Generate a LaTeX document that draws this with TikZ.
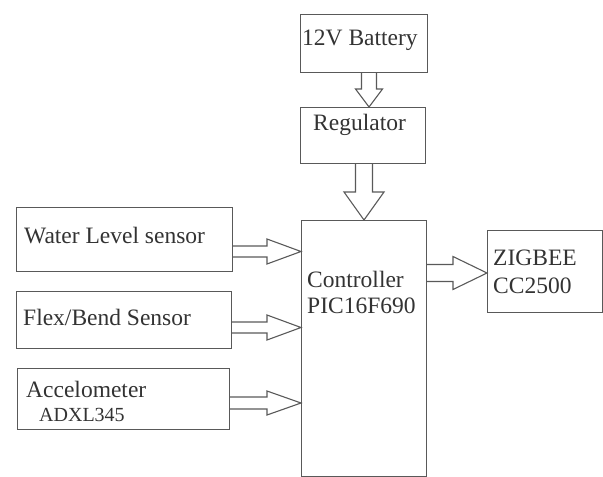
\documentclass[tikz,border=0pt]{standalone}
\usepackage{fontspec}
\setmainfont{LiberationSerif}[Extension=.ttf,UprightFont=*-Regular,BoldFont=*-Bold]
\begin{document}
\begin{tikzpicture}[x=1pt,y=-1pt,
  box/.style={draw=black!65,line width=1.3pt,inner sep=0pt,anchor=north west,rectangle},
  lbl/.style={anchor=base west,inner sep=0pt,text=black!80,font=\fontsize{23.5}{26}\selectfont},
  slbl/.style={anchor=base west,inner sep=0pt,text=black!80,font=\fontsize{20}{22}\selectfont},
  arr/.style={draw=black!65,line width=1.1pt,line join=miter}]
\useasboundingbox (0,0) rectangle (603,477);
% boxes
\node[box,minimum width=127pt,minimum height=58pt] (bat) at (300,14) {};
\node[box,minimum width=125pt,minimum height=56pt] (reg) at (300,107) {};
\node[box,minimum width=125pt,minimum height=256pt] (ctrl) at (301,220) {};
\node[box,minimum width=216pt,minimum height=64pt] (wl) at (16,207) {};
\node[box,minimum width=215pt,minimum height=57pt] (flex) at (16,291) {};
\node[box,minimum width=212pt,minimum height=61pt] (acc) at (17,368) {};
\node[box,minimum width=115pt,minimum height=82pt] (zig) at (487,230) {};
% labels
\node[lbl] (tbat) at (302,45) {12V Battery};
\node[lbl] (treg) at (313,130) {Regulator};
\node[lbl] (tctrl1) at (307,287) {Controller};
\node[lbl] (tctrl2) at (307,313) {PIC16F690};
\node[lbl] (twl) at (24,243) {Water Level sensor};
\node[lbl] (tflex) at (23,325) {Flex/Bend Sensor};
\node[lbl] (tacc) at (26,397) {Accelometer};
\node[slbl] (tadx) at (39,421) {ADXL345};
\node[lbl] (tzig1) at (493,265) {ZIGBEE};
\node[lbl] (tzig2) at (493,293) {CC2500};
% hollow arrows
\newcommand\harrow[6]{% tailx tipx y shafthalf headhalf headstartx
  \draw[arr] (#1,#3-#4) -- (#6,#3-#4) -- (#6,#3-#5) -- (#2,#3) -- (#6,#3+#5) -- (#6,#3+#4) -- (#1,#3+#4);}
\newcommand\varrow[6]{% taily tipy x shafthalf headhalf headstarty
  \draw[arr] (#3-#4,#1) -- (#3-#4,#6) -- (#3-#5,#6) -- (#3,#2) -- (#3+#5,#6) -- (#3+#4,#6) -- (#3+#4,#1);}
\varrow{72}{107}{369}{7.5}{13.5}{89}
\varrow{163}{220}{364}{8.5}{20}{192}
\harrow{232}{301}{251.5}{5.5}{12.5}{267}
\harrow{231}{301}{327.5}{5.5}{12.5}{267}
\harrow{229}{301}{403}{6}{12}{267}
\harrow{426}{487}{273}{8.5}{16.5}{453}
\end{tikzpicture}
\end{document}
